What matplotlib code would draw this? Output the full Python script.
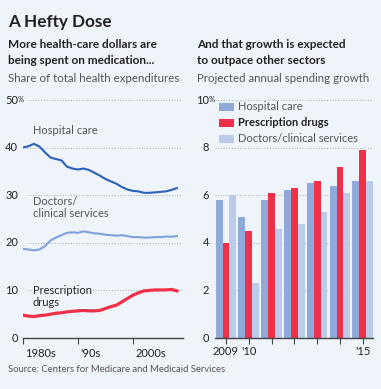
import matplotlib.pyplot as plt
from matplotlib.transforms import blended_transform_factory
from matplotlib.patches import Rectangle

# share of total health expenditures, 1980-2008
years = list(range(1980, 2009))
hospital = [40.0, 40.3, 40.8, 40.2, 39.0, 37.9, 37.6, 37.3, 36.0, 35.6,
            35.4, 35.6, 35.3, 34.7, 34.1, 33.4, 32.9, 32.4, 31.7, 31.2,
            30.9, 30.8, 30.5, 30.5, 30.6, 30.7, 30.8, 31.1, 31.5]
doctors = [18.7, 18.6, 18.4, 18.6, 19.3, 20.5, 21.1, 21.6, 22.1, 22.2,
           22.1, 22.4, 22.2, 22.0, 21.9, 21.7, 21.6, 21.5, 21.6, 21.4,
           21.2, 21.2, 21.1, 21.1, 21.2, 21.2, 21.3, 21.3, 21.4]
drugs = [4.8, 4.6, 4.5, 4.7, 4.8, 5.0, 5.2, 5.3, 5.5, 5.6,
         5.7, 5.8, 5.7, 5.7, 5.8, 6.2, 6.6, 6.9, 7.6, 8.3,
         9.0, 9.5, 9.9, 10.0, 10.1, 10.1, 10.1, 10.2, 9.9]

# projected annual spending growth
proj_years = [2009, 2010, 2011, 2012, 2013, 2014, 2015]
proj_hospital = [5.8, 5.1, 5.8, 6.2, 6.5, 6.4, 6.6]
proj_drugs = [4.0, 4.5, 6.1, 6.3, 6.6, 7.2, 7.9]
proj_doctors = [6.0, 2.3, 4.6, 4.8, 5.3, 6.1, 6.6]
proj_labels = ['2009', "'10", '', '', '', '', "'15"]

bg = '#eff3fa'
c_hosp = '#2a62b8'
c_doc = '#7fa1dc'
c_drug = '#ee3148'
b_hosp = '#8ea9da'
b_doc = '#bccbea'
grey = '#555555'
dark = '#222222'

plt.rcParams['font.family'] = ['Lato', 'DejaVu Sans']

W, H = 381, 389
fig = plt.figure(figsize=(W / 100, H / 100), dpi=100, facecolor=bg)

def fx(px):
    return px / W

def fy(py):
    return 1 - py / H

fig.text(fx(8), fy(22), 'A Hefty Dose', fontsize=12.3, fontweight='bold', color=dark, va='center')
fig.text(fx(8), fy(45), 'More health-care dollars are', fontsize=8.5, fontweight='bold', color=dark, va='center')
fig.text(fx(8), fy(60), 'being spent on medication...', fontsize=8.5, fontweight='bold', color=dark, va='center')
fig.text(fx(8), fy(78), 'Share of total health expenditures', fontsize=8.3, color=grey, va='center')
fig.text(fx(197), fy(45), 'And that growth is expected', fontsize=8.5, fontweight='bold', color=dark, va='center')
fig.text(fx(197), fy(60), 'to outpace other sectors', fontsize=8.5, fontweight='bold', color=dark, va='center')
fig.text(fx(197), fy(78), 'Projected annual spending growth', fontsize=8.3, color=grey, va='center')
fig.text(fx(8), fy(370), 'Source: Centers for Medicare and Medicaid Services', fontsize=6.8, color=grey, va='center')

ax1 = fig.add_axes([fx(23), fy(338), fx(160), 238 / H])
ax2 = fig.add_axes([fx(215), fy(338), fx(158), 238 / H])

for ax in (ax1, ax2):
    ax.set_facecolor(bg)
    for s in ('top', 'right', 'left'):
        ax.spines[s].set_visible(False)
    ax.spines['bottom'].set_color('#444444')
    ax.spines['bottom'].set_linewidth(1)
    ax.set_yticks([])
    ax.tick_params(axis='x', length=4, color='#444444', labelsize=8, labelcolor=dark, pad=2)

# left chart
ax1.set_xlim(1980, 2009.1)
ax1.set_ylim(0, 50)
tr1 = blended_transform_factory(fig.transFigure, ax1.transData)
for v in [10, 20, 30, 40, 50]:
    ax1.plot([1980.7, 2009.1], [v, v], ls=(0, (1, 1.8)), color='#a8a8a8', lw=0.7, zorder=1)
    ax1.text(fx(18), v, str(v), transform=tr1, ha='right', va='center', fontsize=8, color=dark)
ax1.text(fx(18), 50, '%', transform=tr1, ha='left', va='center', fontsize=5.5, color=dark)
ax1.text(fx(18), 0, '0', transform=tr1, ha='right', va='center', fontsize=8, color=dark)

ax1.plot(years, hospital, color=c_hosp, lw=1.5, zorder=3)
ax1.plot(years, doctors, color=c_doc, lw=1.5, zorder=3)
ax1.plot(years, drugs, color=c_drug, lw=2.3, zorder=3)

ax1.text(1981.8, 43.6, 'Hospital care', fontsize=8, color=grey, va='center')
ax1.text(1981.8, 27.5, 'Doctors/\nclinical services', fontsize=8, color=grey, va='center', linespacing=1.1)
ax1.text(1981.8, 8.7, 'Prescription\ndrugs', fontsize=8, color=dark, va='center', linespacing=1.1,
         bbox=dict(facecolor=bg, edgecolor='none', pad=1), zorder=4)

ax1.set_xticks([1980, 1990, 2000])
ax1.set_xticklabels(['', '', ''])
for x, lab in zip([1980, 1990, 2000], ['1980s', "'90s", '2000s']):
    ax1.text(x + 0.4, -2.0, lab, ha='left', va='top', fontsize=8, color=dark)

# right chart
ax2.set_xlim(2008.52, 2015.45)
ax2.set_ylim(0, 10)
tr2 = blended_transform_factory(fig.transFigure, ax2.transData)
for v in [2, 4, 6, 8, 10]:
    ax2.plot([2008.52, 2015.45], [v, v], ls=(0, (1, 1.8)), color='#a8a8a8', lw=0.7, zorder=1)
    ax2.text(fx(209), v, str(v), transform=tr2, ha='right', va='center', fontsize=8, color=dark)
ax2.text(fx(209), 10, '%', transform=tr2, ha='left', va='center', fontsize=5.5, color=dark)
ax2.text(fx(209), 0, '0', transform=tr2, ha='right', va='center', fontsize=8, color=dark)

w = 0.3
xs = list(proj_years)
ax2.bar([x - w for x in xs], proj_hospital, width=w, color=b_hosp, zorder=2)
ax2.bar(xs, proj_drugs, width=w, color=c_drug, zorder=2)
ax2.bar([x + w for x in xs], proj_doctors, width=w, color=b_doc, zorder=2)
ax2.set_xticks(xs)
ax2.set_xticklabels(proj_labels)

# legend
leg = [('Hospital care', b_hosp, 'normal', grey),
       ('Prescription drugs', c_drug, 'bold', dark),
       ('Doctors/clinical services', b_doc, 'normal', grey)]
for i, (lab, col, fw, tc) in enumerate(leg):
    yy = 107 + 16 * i
    fig.patches.append(Rectangle((fx(219), fy(yy + 4)), fx(15), 8 / H, transform=fig.transFigure,
                                 facecolor=col, edgecolor='none'))
    fig.text(fx(238), fy(yy), lab, fontsize=8, color=tc, fontweight=fw, va='center')

fig.savefig('out.png', dpi=100, facecolor=bg)
